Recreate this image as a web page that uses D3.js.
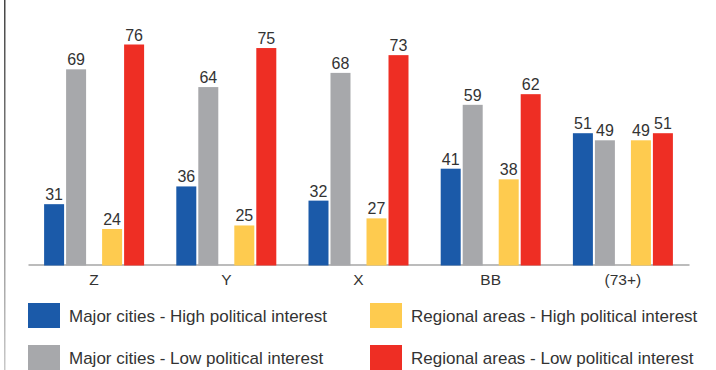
<!DOCTYPE html>
<html>
<head>
<meta charset="utf-8">
<script src="https://cdn.jsdelivr.net/npm/d3@7"></script>
<style>
  html, body { margin: 0; padding: 0; background: #fff; }
  svg { display: block; }
  text { font-family: "Liberation Sans", Arial, Helvetica, sans-serif; fill: #333; }
</style>
</head>
<body>
<svg id="chart" width="716" height="370"></svg>
<script>
// Categories and series values
const categories = ["Z", "Y", "X", "BB", "(73+)"];
const majorHigh = [31, 36, 32, 41, 51];
const majorLow = [69, 64, 68, 59, 49];
const regionalHigh = [24, 25, 27, 38, 49];
const regionalLow = [76, 75, 73, 62, 51];

const seriesNames = [
  "Major cities - High political interest",
  "Major cities - Low political interest",
  "Regional areas - High political interest",
  "Regional areas - Low political interest"
];
const seriesColors = ["#1b5aa9", "#a7a8ab", "#fecb4f", "#ee2e24"];

const series = [
  { name: seriesNames[0], area: "Major", level: "High", values: majorHigh, color: seriesColors[0] },
  { name: seriesNames[1], area: "Major", level: "Low", values: majorLow, color: seriesColors[1] },
  { name: seriesNames[2], area: "Regional", level: "High", values: regionalHigh, color: seriesColors[2] },
  { name: seriesNames[3], area: "Regional", level: "Low", values: regionalLow, color: seriesColors[3] }
];

const svg = d3.select("#chart");

// Left frame edge, fading downward
const defs = svg.append("defs");
const grad = defs.append("linearGradient")
  .attr("id", "edgeFade").attr("x1", 0).attr("y1", 0).attr("x2", 0).attr("y2", 1);
grad.append("stop").attr("offset", "0%").attr("stop-color", "#444");
grad.append("stop").attr("offset", "100%").attr("stop-color", "#c8c8c8");
svg.append("rect")
  .attr("x", 4).attr("y", 0).attr("width", 1.5).attr("height", 370)
  .attr("fill", "url(#edgeFade)");

// Scales
const x = d3.scaleBand().domain(categories).range([28, 689]).padding(0);
const groupWidth = 100;
const xArea = d3.scaleBand().domain(["Major", "Regional"]).range([0, groupWidth]).paddingInner(0.276);
const xLevel = d3.scaleBand().domain(["High", "Low"]).range([0, xArea.bandwidth()]).paddingInner(0.0909);
const y = d3.scaleLinear().domain([14, 76]).range([264.5, 44.5]);

const groupStart = c => x(c) + (x.bandwidth() - groupWidth) / 2;

// Category axis
const xAxis = d3.axisBottom(x).tickSize(0).tickPadding(9);
const axisG = svg.append("g").attr("transform", `translate(0,${y.range()[0]})`).call(xAxis);
axisG.select(".domain").attr("stroke", "#7a7a7a").attr("stroke-width", 1.2);
axisG.selectAll(".tick text")
  .style("font-family", '"Liberation Sans", Arial, sans-serif')
  .style("font-size", "15.5px")
  .attr("fill", "#333");

// Bars and value labels
const rows = [];
series.forEach(s => {
  s.values.forEach((v, i) => rows.push({ s, cat: categories[i], v }));
});

const barX = d => groupStart(d.cat) + xArea(d.s.area) + xLevel(d.s.level);

svg.append("g").selectAll("rect")
  .data(rows).join("rect")
  .attr("x", barX)
  .attr("y", d => y(d.v))
  .attr("width", xLevel.bandwidth())
  .attr("height", d => y.range()[0] + 1 - y(d.v))
  .attr("fill", d => d.s.color);

svg.append("g").selectAll("text")
  .data(rows).join("text")
  .attr("x", d => barX(d) + xLevel.bandwidth() / 2)
  .attr("y", d => y(d.v) - 4)
  .attr("text-anchor", "middle")
  .style("font-size", "16px")
  .text(d => d.v);

// Legend: two columns, two rows
const legendCol = d3.scaleOrdinal().domain(["Major", "Regional"]).range([28, 370]);
const legendRow = d3.scaleOrdinal().domain(["High", "Low"]).range([303, 345]);

const legend = svg.append("g").selectAll("g")
  .data(series).join("g")
  .attr("transform", d => `translate(${legendCol(d.area)},${legendRow(d.level)})`);
legend.append("rect")
  .attr("width", 32).attr("height", 25)
  .attr("fill", d => d.color);
legend.append("text")
  .attr("x", 41).attr("y", 19)
  .style("font-size", "17px")
  .text(d => d.name);
</script>
</body>
</html>
